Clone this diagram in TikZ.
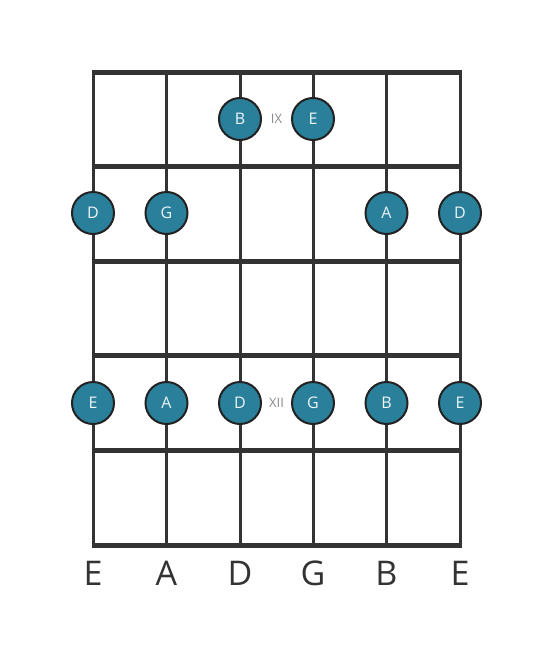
\documentclass[tikz,border=0pt]{standalone}
\usepackage{fontspec}
\setmainfont{Open Sans}
\definecolor{linec}{HTML}{333333}
\definecolor{dotc}{HTML}{2A7F9B}
\definecolor{dotline}{HTML}{222222}
\definecolor{romc}{HTML}{8A8A8A}
\begin{document}
\begin{tikzpicture}[x=1pt,y=-1pt,
  fret/.style={draw=linec,line width=5pt},
  string/.style={draw=linec,line width=3pt},
  notedot/.style={circle,fill=dotc,draw=dotline,line width=2pt,minimum size=42pt,inner sep=0pt,text=white!92!dotc,font=\fontsize{16}{16}\selectfont},
  roman/.style={text=romc,font=\fontsize{13}{13}\selectfont},
  strlab/.style={text=linec,font=\fontsize{34}{34}\selectfont}]
\useasboundingbox[fill=white] (0,0) rectangle (553,656);
% strings
\foreach \x [count=\i] in {93,166.5,240,313,386.5,460}{
  \coordinate (st\i) at (\x,72);
  \coordinate (sb\i) at (\x,545);
  \draw[string] (st\i) -- (sb\i);
}
% frets
\foreach \y [count=\j] in {72,166.5,261,355.5,450,545}{
  \coordinate (fl\j) at (91.5,\y);
  \coordinate (fr\j) at (461.5,\y);
  \draw[fret] (fl\j) -- (fr\j);
}
% dots
\node[notedot] (b9) at (240,119) {B};
\node[notedot] (e9) at (313,119) {E};
\node[roman] (r9) at (276.5,119) {IX};
\node[notedot] (d10a) at (93,213) {D};
\node[notedot] (g10) at (166.5,213) {G};
\node[notedot] (a10) at (386.5,213) {A};
\node[notedot] (d10b) at (460,213) {D};
\node[notedot] (e12a) at (93,403) {E};
\node[notedot] (a12) at (166.5,403) {A};
\node[notedot] (d12) at (240,403) {D};
\node[roman] (r12) at (276.5,403) {XII};
\node[notedot] (g12) at (313,403) {G};
\node[notedot] (b12) at (386.5,403) {B};
\node[notedot] (e12b) at (460,403) {E};
% labels
\foreach \x/\t [count=\i] in {93/E,166.5/A,240/D,313/G,386.5/B,460/E}{
  \node[strlab] (lab\i) at (\x,573) {\t};
}
\end{tikzpicture}
\end{document}
